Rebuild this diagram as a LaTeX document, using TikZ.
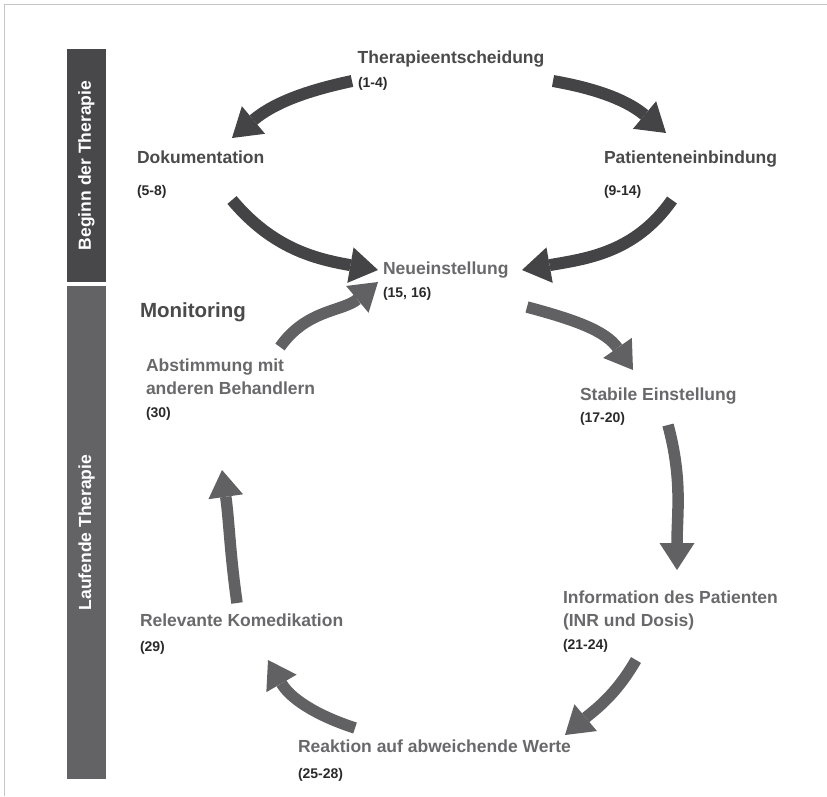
\documentclass[tikz,border=0pt]{standalone}
\usepackage{fontspec}
\setmainfont{Liberation Sans}
\usetikzlibrary{arrows.meta}

\definecolor{bardark}{HTML}{48484A}
\definecolor{bargray}{HTML}{636366}
\definecolor{arrdark}{HTML}{444446}
\definecolor{arrgray}{HTML}{616164}
\definecolor{txtdark}{HTML}{4A4A4A}
\definecolor{txtgray}{HTML}{69696B}
\definecolor{txtnum}{HTML}{2A2A2A}

\begin{document}
\begin{tikzpicture}[x=1pt, y=-1pt]
	\tikzstyle{every node} = [inner sep=0pt, outer sep=0pt]
	\tikzstyle{stage} = [anchor=base west, font=\bfseries\fontsize{17.5}{21}\selectfont]
	\tikzstyle{num} = [anchor=base west, text=txtnum, font=\bfseries\fontsize{14}{16}\selectfont]
	\tikzstyle{barlabel} = [rotate=90, text=white, font=\bfseries\fontsize{17.5}{21}\selectfont]
	\tikzstyle{flowdark} = [line width=12pt, draw=arrdark, -{Triangle[width=36pt, length=28pt, line width=0pt]}]
	\tikzstyle{flowgray} = [line width=11.5pt, draw=arrgray, -{Triangle[width=35pt, length=27pt, line width=0pt]}]
	\useasboundingbox (0,0) rectangle (827,796);
	% scan frame
	\draw[gray!45, line width=1pt] (4,796) -- (4,4) -- (827,4);
	% phase bars
	\fill[bardark] (67,49) rectangle (106,282);
	\fill[bargray] (67,286) rectangle (106,779);
	\node[barlabel] (beginn) at (86.5,165.5) {Beginn der Therapie};
	\node[barlabel] (laufend) at (86.5,532.5) {Laufende Therapie};
	% stages
	\node[stage, text=txtdark, anchor=base] (entsch) at (451,63) {Therapieentscheidung};
	\node[num] (entschN) at (358,87) {(1-4)};
	\node[stage, text=txtdark] (doku) at (137,163) {Dokumentation};
	\node[num] (dokuN) at (137,195) {(5-8)};
	\node[stage, text=txtdark] (einb) at (604,163) {Patienteneinbindung};
	\node[num] (einbN) at (604,195) {(9-14)};
	\node[stage, text=txtgray] (neu) at (383,274) {Neueinstellung};
	\node[num] (neuN) at (383,297) {(15, 16)};
	\node[anchor=base west, text=txtdark, font=\bfseries\fontsize{20.5}{24}\selectfont] (monit) at (140,317) {Monitoring};
	\node[stage, text=txtgray] (abst) at (146,371) {Abstimmung mit};
	\node[stage, text=txtgray] (abst2) at (146,394) {anderen Behandlern};
	\node[num] (abstN) at (146,417) {(30)};
	\node[stage, text=txtgray] (stab) at (580,400) {Stabile Einstellung};
	\node[num] (stabN) at (580,422) {(17-20)};
	\node[stage, text=txtgray] (info) at (563,603) {Information des Patienten};
	\node[stage, text=txtgray] (info2) at (563,626) {(INR und Dosis)};
	\node[num] (infoN) at (563,649) {(21-24)};
	\node[stage, text=txtgray] (komed) at (140,626) {Relevante Komedikation};
	\node[num] (komedN) at (140,651) {(29)};
	\node[stage, text=txtgray] (reakt) at (298,752) {Reaktion auf abweichende Werte};
	\node[num] (reaktN) at (298,778) {(25-28)};
	% arrow ends
	\coordinate (a1) at (352,81);  \coordinate (b1) at (232,138);
	\coordinate (a2) at (232,200); \coordinate (b2) at (378,270);
	\coordinate (a3) at (553,81);  \coordinate (b3) at (666,133);
	\coordinate (a4) at (672,200); \coordinate (b4) at (522,270);
	\coordinate (a5) at (280,347); \coordinate (b5) at (378,282);
	\coordinate (a6) at (527,307); \coordinate (b6) at (633,370);
	\coordinate (a7) at (668,425); \coordinate (b7) at (677,570);
	\coordinate (a8) at (636,660); \coordinate (b8) at (565,735);
	\coordinate (a9) at (355,728); \coordinate (b9) at (268,660);
	\coordinate (a10) at (237,603); \coordinate (b10) at (222,470);
	% start of therapy
	\draw[flowdark] (a1) to[out=192, in=40] (b1);
	\draw[flowdark] (a2) to[out=-50, in=170] (b2);
	\draw[flowdark] (a3) to[out=-10, in=140] (b3);
	\draw[flowdark] (a4) to[out=-125, in=10] (b4);
	% monitoring cycle
	\draw[flowgray] (a6) to[out=-15, in=125] (b6);
	\draw[flowgray] (a7) to[out=-75, in=90] (b7);
	\draw[flowgray] (a8) to[out=-120, in=40] (b8);
	\draw[flowgray] (a9) to[out=162, in=-60] (b9);
	\draw[flowgray] (a10) to[out=98, in=-82] (b10);
	\draw[flowgray] (a5) to[out=55, in=-140] (b5);
\end{tikzpicture}
\end{document}
